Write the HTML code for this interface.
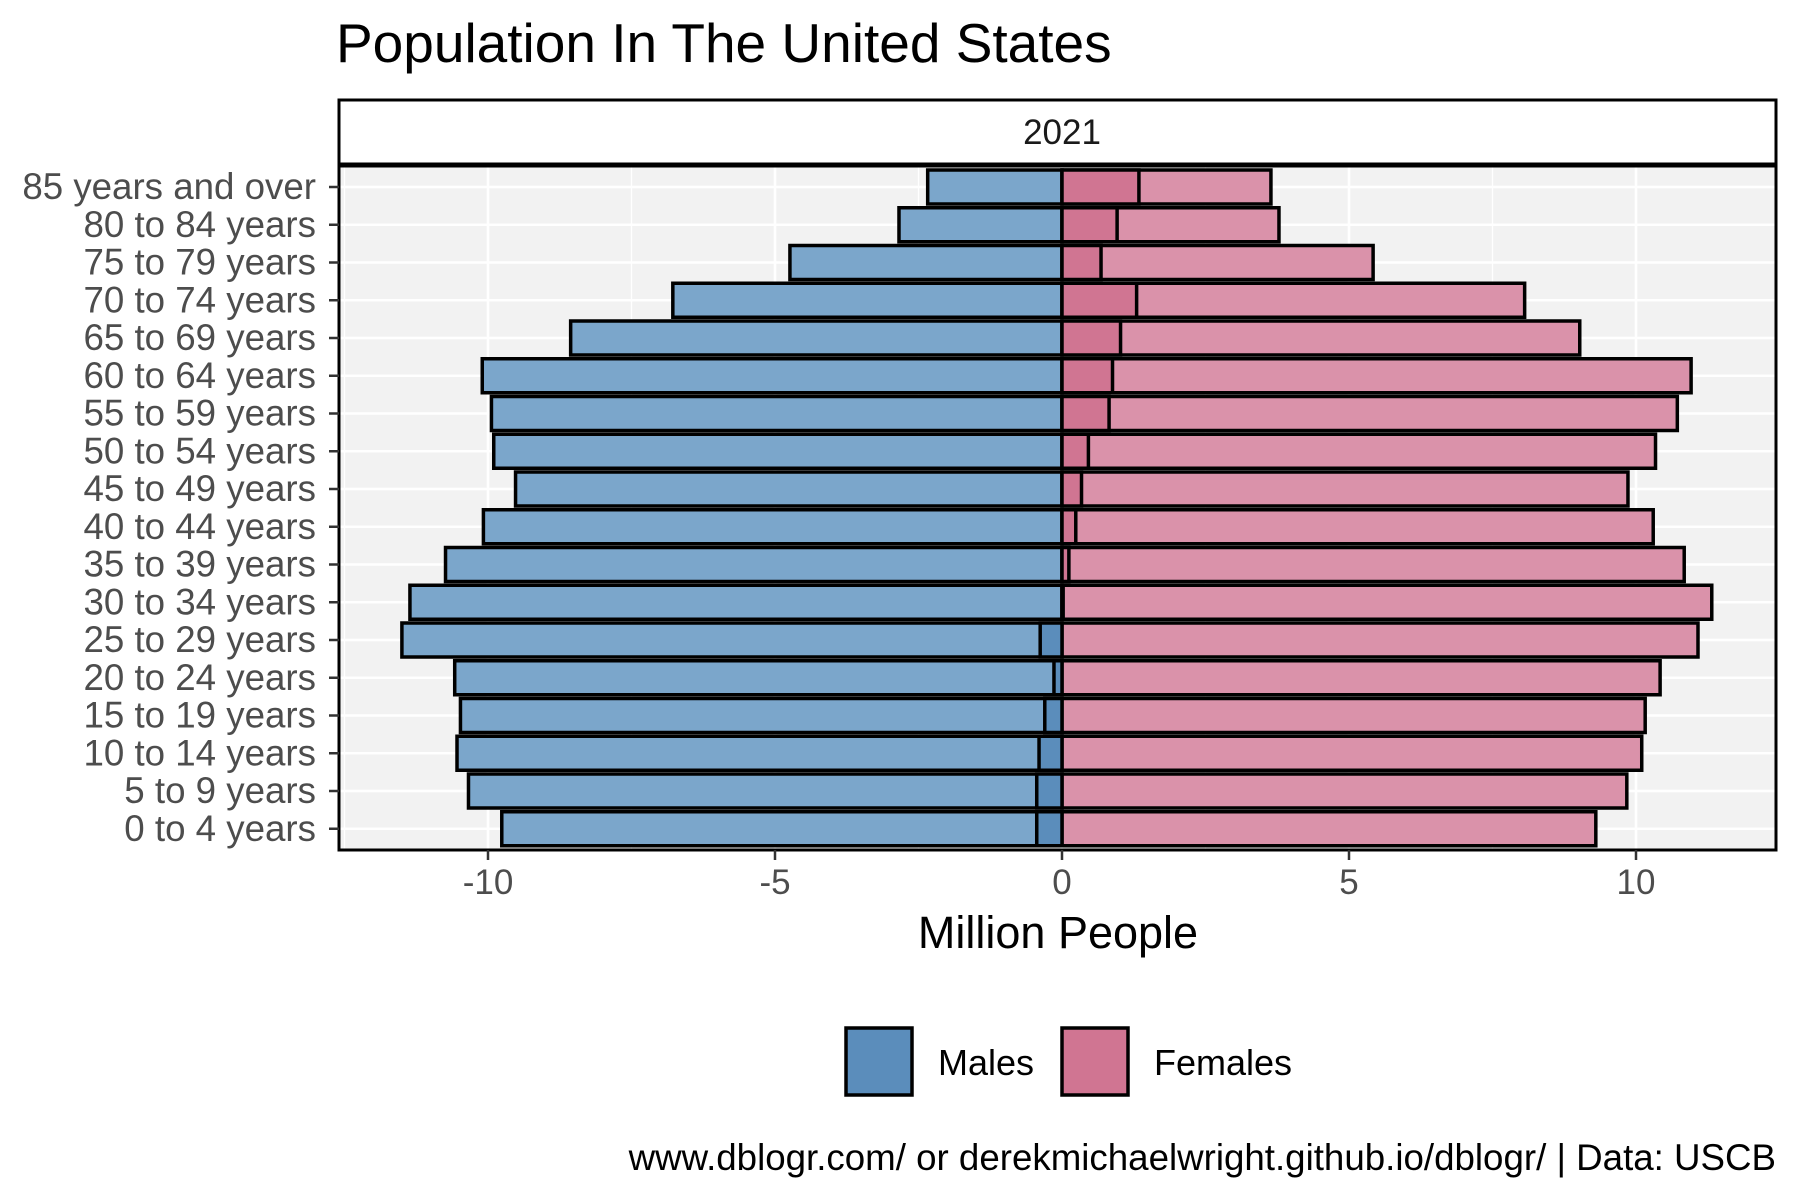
<!DOCTYPE html>
<html><head><meta charset="utf-8"><style>
html,body{margin:0;padding:0;background:#fff}
svg{display:block;font-family:"Liberation Sans",Arial,sans-serif}
</style></head><body>
<svg id="chart" width="1800" height="1200" viewBox="0 0 1800 1200">
<text x="336" y="62" font-size="55" fill="#000">Population In The United States</text>
<rect x="339" y="100" width="1437" height="64" fill="#fff" stroke="#000" stroke-width="3"/>
<text x="1062" y="144" font-size="35" text-anchor="middle" fill="#1a1a1a">2021</text>
<rect x="339" y="166" width="1437" height="684" fill="#f2f2f2"/>
<g id="grid"></g>
<g id="bars"></g>
<rect x="339" y="166" width="1437" height="684" fill="none" stroke="#000" stroke-width="3"/>
<g id="axes"></g>
<text x="1058" y="948" font-size="45" text-anchor="middle" fill="#000">Million People</text>
<g>
<rect x="846" y="1028" width="66" height="67" fill="#5b8dbb" stroke="#000" stroke-width="3.5"/>
<text x="938" y="1075" font-size="36" fill="#000">Males</text>
<rect x="1062" y="1028" width="66" height="67" fill="#d07592" stroke="#000" stroke-width="3.5"/>
<text x="1154" y="1075" font-size="36" fill="#000">Females</text>
</g>
<text x="1776" y="1170" font-size="36.7" text-anchor="end" fill="#000">www.dblogr.com/ or derekmichaelwright.github.io/dblogr/ | Data: USCB</text>
</svg>
<script>
const ageGroups = ["85 years and over","80 to 84 years","75 to 79 years","70 to 74 years","65 to 69 years","60 to 64 years","55 to 59 years","50 to 54 years","45 to 49 years","40 to 44 years","35 to 39 years","30 to 34 years","25 to 29 years","20 to 24 years","15 to 19 years","10 to 14 years","5 to 9 years","0 to 4 years"];
const males = [2.34,2.84,4.74,6.78,8.56,10.1,9.94,9.9,9.52,10.08,10.74,11.36,11.5,10.58,10.48,10.54,10.34,9.76];
const females = [3.64,3.78,5.42,8.06,9.02,10.96,10.72,10.34,9.86,10.3,10.84,11.32,11.08,10.42,10.16,10.1,9.84,9.3];
const femaleExcess = [1.34,0.96,0.68,1.3,1.02,0.88,0.82,0.46,0.34,0.24,0.12,0.02,0,0,0,0,0,0];
const maleExcess = [0,0,0,0,0,0,0,0,0,0,0,0,0.38,0.14,0.3,0.4,0.44,0.44];
const xTicks = [-10,-5,0,5,10];
const xMinor = [-12.5,-7.5,-2.5,2.5,7.5,12.5];

const NS="http://www.w3.org/2000/svg";
const X0=1062, UNIT=57.4, ROW0=187, ROWSTEP=37.75, BARH=34;
const PL=339, PR=1776, PT=166, PB=850;
const xs=v=>X0+v*UNIT;
const ys=i=>ROW0+i*ROWSTEP;
function mk(tag,attrs,parent){const e=document.createElementNS(NS,tag);for(const k in attrs)e.setAttribute(k,attrs[k]);parent.appendChild(e);return e;}
const grid=document.getElementById('grid'), bars=document.getElementById('bars'), axes=document.getElementById('axes');

xMinor.forEach(v=>{const x=xs(v);if(x<PL||x>PR)return;
 const l=mk('line',{x1:x,x2:x,y1:PT,y2:PB,stroke:'#fff','stroke-width':1.3},grid);
 
 });
xTicks.forEach(v=>{const x=xs(v);
 const l=mk('line',{x1:x,x2:x,y1:PT,y2:PB,stroke:'#fff','stroke-width':2.6},grid);
 
 
 const t=mk('line',{x1:x,x2:x,y1:PB,y2:PB+10,stroke:'#333','stroke-width':2.5},axes);
 
 
 const tx=mk('text',{x:x,y:PB+44,'font-size':35,'text-anchor':'middle',fill:'#4d4d4d'},axes);
 tx.textContent=v;
 
 });
ageGroups.forEach((g,i)=>{const y=ys(i);
 const l=mk('line',{x1:PL,x2:PR,y1:y,y2:y,stroke:'#fff','stroke-width':2.6},grid);
 
 
 const t=mk('line',{x1:PL-10,x2:PL,y1:y,y2:y,stroke:'#333','stroke-width':2.5},axes);
 
 
 const tx=mk('text',{x:PL-23,y:y+12,'font-size':36.7,'text-anchor':'end',fill:'#4d4d4d'},axes);
 tx.textContent=g;
 
 
 const top=y-BARH/2;
 const mb=mk('rect',{x:xs(-males[i]),y:top,width:xs(0)-xs(-males[i]),height:BARH,fill:'#7ba6cb',stroke:'#000','stroke-width':3.5},bars);
 
 
 const fb=mk('rect',{x:xs(0),y:top,width:xs(females[i])-xs(0),height:BARH,fill:'#da92aa',stroke:'#000','stroke-width':3.5},bars);
 
 
 if(maleExcess[i]>0){const e=mk('rect',{x:xs(-maleExcess[i]),y:top,width:xs(0)-xs(-maleExcess[i]),height:BARH,fill:'#5b8dbb',stroke:'#000','stroke-width':3.5},bars);
  
  }
 if(femaleExcess[i]>0){const e=mk('rect',{x:xs(0),y:top,width:xs(femaleExcess[i])-xs(0),height:BARH,fill:'#d07592',stroke:'#000','stroke-width':3.5},bars);
  
  }
});
</script>
</body></html>
